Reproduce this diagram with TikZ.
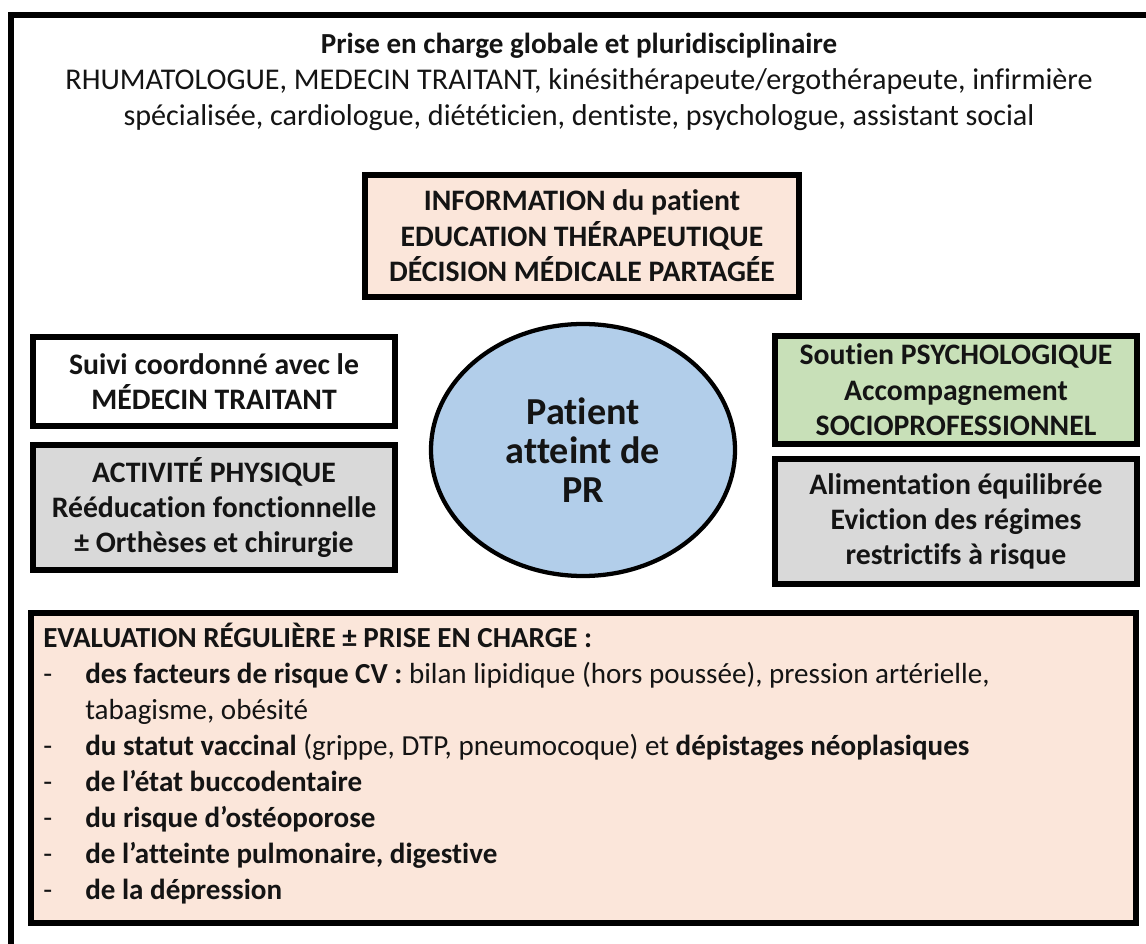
\documentclass[tikz,border=0pt]{standalone}
\usepackage{fontspec}
\setmainfont{Carlito}[Ligatures=NoCommon]
\usetikzlibrary{shapes.geometric}
\definecolor{peach}{HTML}{FBE6DA}
\definecolor{sage}{HTML}{C8E0B8}
\definecolor{lgray}{HTML}{D9D9D9}
\definecolor{sky}{HTML}{B2CEEA}
\definecolor{ink}{HTML}{141414}
\tikzset{
  card/.style={draw=black, line width=4.3pt, rectangle, align=center, inner sep=0pt,
    font=\fontsize{22.3}{26.5}\selectfont\bfseries, text=ink},
  txt/.style={inner sep=0pt, text=ink, font=\fontsize{21.8}{27}\selectfont},
}
\begin{document}
\begin{tikzpicture}[x=0.75pt, y=-0.75pt]
\useasboundingbox (0,0) rectangle (1146,944);
\clip (0,0) rectangle (1146,944);
\fill[white] (0,0) rectangle (1146,944);
% outer frame (extends beyond the picture)
\draw[line width=4.5pt] (11,15) rectangle (1200,1000);

\node[txt, align=center, font=\fontsize{22.6}{27}\selectfont] (title) at (579,82)
  {{\fontsize{21.8}{27}\selectfont\bfseries Prise en charge globale et pluridisciplinaire}\\
   RHUMATOLOGUE, MEDECIN TRAITANT, kinésithérapeute/ergothérapeute, infirmière\\
   spécialisée, cardiologue, diététicien, dentiste, psychologue, assistant social};

\node[card, fill=peach, minimum width=326pt, minimum height=92pt] (info) at (582,236)
  {INFORMATION du patient\\ EDUCATION THÉRAPEUTIQUE\\ DÉCISION MÉDICALE PARTAGÉE};

\node[card, fill=white, minimum width=272pt, minimum height=67pt] (suivi) at (214,381.5)
  {Suivi coordonné avec le\\ MÉDECIN TRAITANT};

\node[card, fill=lgray, minimum width=272pt, minimum height=94pt] (activ) at (214,507.5)
  {ACTIVITÉ PHYSIQUE\\ Rééducation fonctionnelle\\ ± Orthèses et chirurgie};

\node[card, fill=sage, minimum width=272pt, minimum height=81pt] (soutien) at (956,390)
  {Soutien PSYCHOLOGIQUE\\ Accompagnement\\ SOCIOPROFESSIONNEL};

\node[card, fill=lgray, minimum width=272pt, minimum height=94pt] (alim) at (956,521.5)
  {Alimentation équilibrée\\ Eviction des régimes\\ restrictifs à risque};

\node[draw=black, line width=3.2pt, ellipse, fill=sky, minimum width=228pt, minimum height=189pt,
  inner sep=0pt, align=center, text=ink, font=\fontsize{28.6}{29.3}\selectfont\bfseries] (patient) at (583,450)
  {Patient\\ atteint de\\ PR};

\node[card, fill=peach, minimum width=829pt, minimum height=233pt] (eval) at (583.5,768) {};

\node[txt, align=left, anchor=west] (evaltxt) at (43,764)
  {\textbf{EVALUATION RÉGULIÈRE ± PRISE EN CHARGE :}\\
   \makebox[31.5pt][l]{-}\textbf{des facteurs de risque CV :} bilan lipidique (hors poussée), pression artérielle,\\
   \hspace*{31.5pt}tabagisme, obésité\\
   \makebox[31.5pt][l]{-}\textbf{du statut vaccinal} (grippe, DTP, pneumocoque) et \textbf{dépistages néoplasiques}\\
   \makebox[31.5pt][l]{-}\textbf{de l’état buccodentaire}\\
   \makebox[31.5pt][l]{-}\textbf{du risque d’ostéoporose}\\
   \makebox[31.5pt][l]{-}\textbf{de l’atteinte pulmonaire, digestive}\\
   \makebox[31.5pt][l]{-}\textbf{de la dépression}};
\end{tikzpicture}
\end{document}
